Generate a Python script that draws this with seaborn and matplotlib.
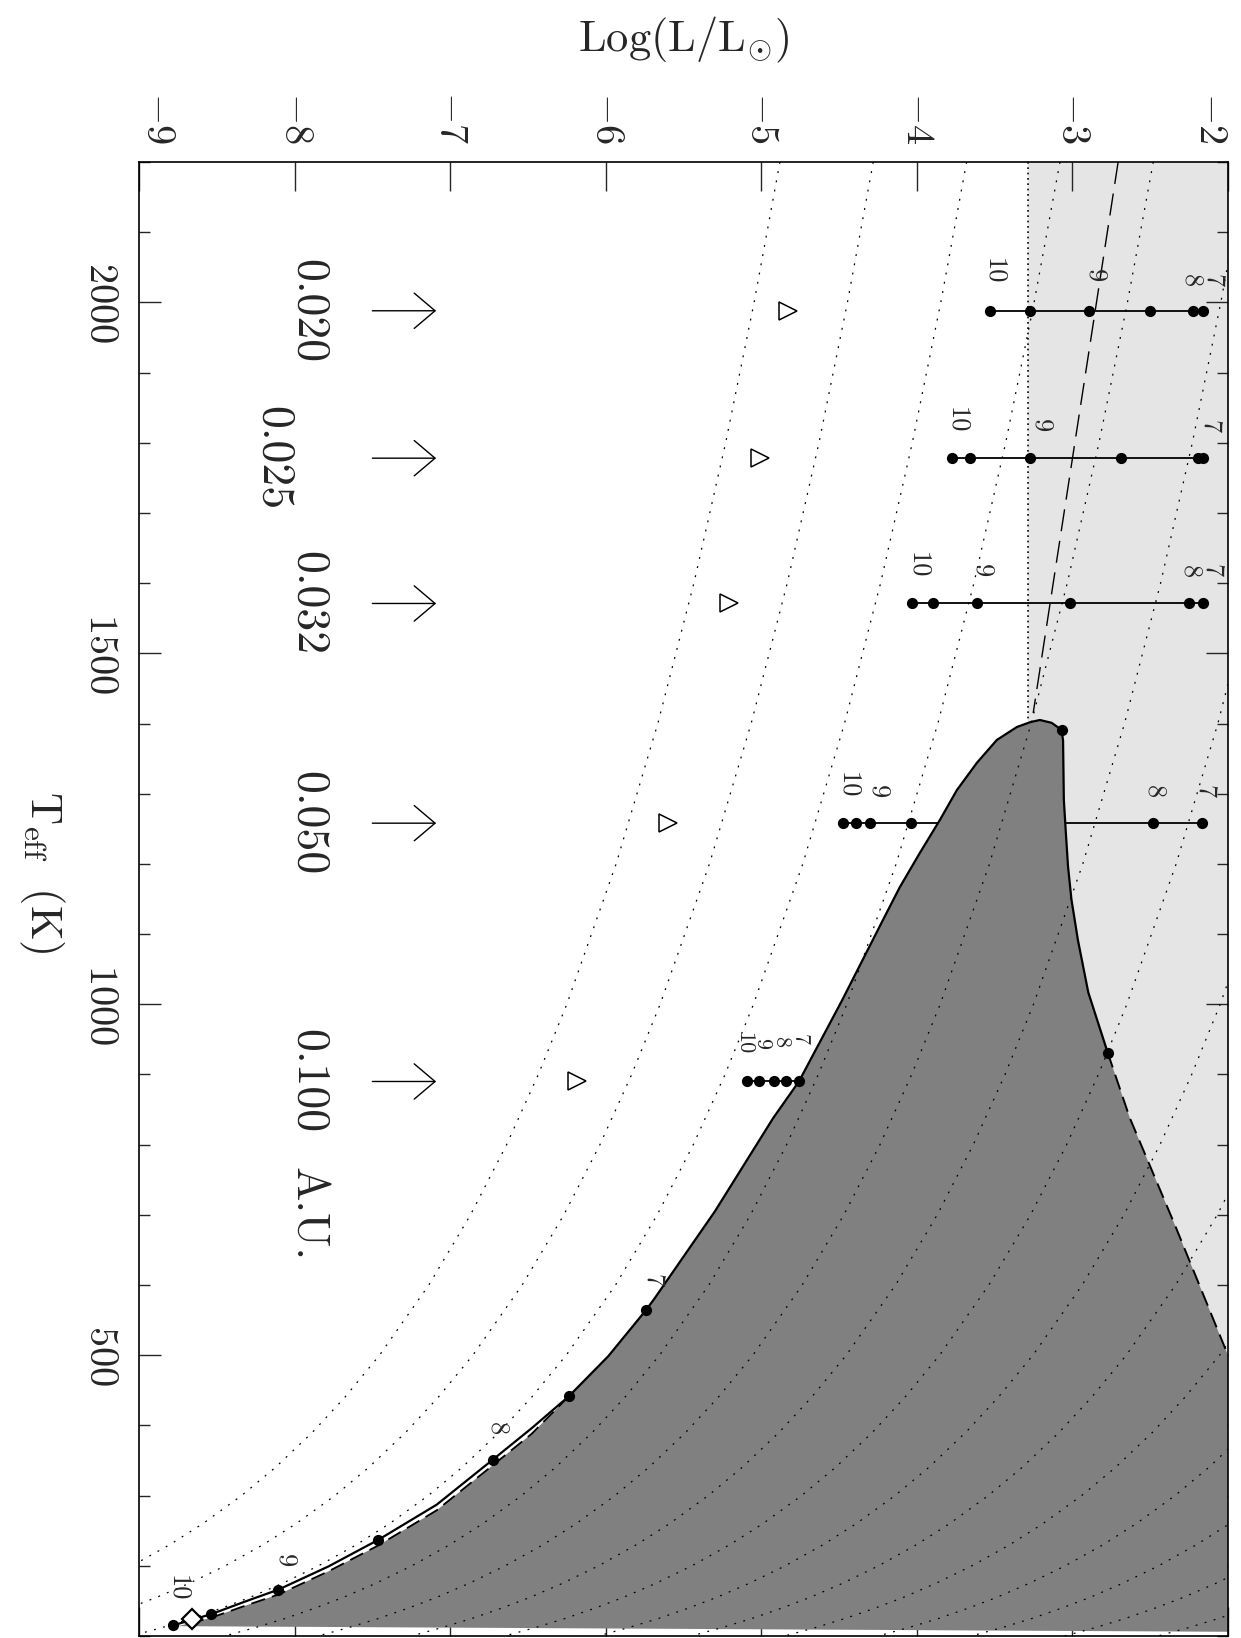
import numpy as np
import matplotlib
matplotlib.use("Agg")
import matplotlib.pyplot as plt
from matplotlib.ticker import MultipleLocator
import seaborn as sns

# dotted iso-radius guides: log L where each one meets the top of the plot,
# and the common shape of a guide (log L offset at the listed Teff)
iso_top_logL = [-4.88, -4.28, -3.68, -3.08, -2.48, -1.88, -1.28, -0.68,
                -0.08, 0.52, 1.12, 1.72, 2.32, 2.92]
iso_teff = [2200, 2000, 1800, 1600, 1400, 1200, 1000, 900, 800, 700, 600, 500,
            440, 390, 340, 300, 260, 230, 200, 175, 155, 140, 125, 112, 100]
iso_offset = [0.0, -0.166, -0.349, -0.553, -0.785, -1.053, -1.370, -1.553,
              -1.757, -1.989, -2.257, -2.574, -2.797, -3.006, -3.244, -3.461,
              -3.710, -3.923, -4.166, -4.398, -4.607, -4.785, -4.980, -5.172,
              -5.370]

# shaded (dark) region outline
dark_logL = [-3.209, -3.134, -3.070, -3.060, -3.055, -3.042, -3.028, -3.006, -2.985,
             -2.965, -2.898, -2.773, -2.631, -2.342, -2.0, -2.0, -8.75, -8.66, -8.537,
             -8.319, -8.105, -7.783, -7.462, -7.087, -6.727, -6.476, -6.237, -5.984,
             -5.742, -5.684, -5.298, -4.923, -4.758, -4.482, -4.218, -4.109, -3.981,
             -3.852, -3.743, -3.614, -3.486, -3.357, -3.27]
dark_teff = [1405, 1401, 1391, 1376, 1291, 1244, 1196, 1149, 1120,
             1092, 1017, 931, 838, 686, 500, 106, 114, 119, 126,
             143, 159, 192, 229, 279, 343, 388, 441.5, 498.5,
             564, 581.5, 705, 838, 890, 1005, 1120, 1167, 1215.5,
             1262.5, 1305, 1344, 1376.5, 1395, 1402]

# solid outline / isolated track
edge_logL = [-2.773, -2.898, -2.965, -2.985, -3.006, -3.028, -3.042, -3.055, -3.060,
             -3.070, -3.134, -3.209, -3.27, -3.357, -3.486, -3.614, -3.743, -3.852,
             -3.981, -4.109, -4.218, -4.482, -4.758, -4.923, -5.298, -5.684, -5.742,
             -5.984, -6.237, -6.476, -6.727, -7.087, -7.462, -7.783, -8.105, -8.319,
             -8.537, -8.783]
edge_teff = [931, 1017, 1092, 1120, 1149, 1196, 1244, 1291, 1376,
             1391, 1401, 1405, 1402, 1395, 1376.5, 1344, 1305, 1262.5,
             1215.5, 1167, 1120, 1005, 890, 838, 705, 581.5, 564,
             498.5, 441.5, 396, 351, 287, 237, 199, 166, 149,
             131, 115]
track_dot_logL = [-3.070, -2.773, -5.742, -6.237, -6.727, -7.462, -8.105, -8.537, -8.783]
track_dot_teff = [1391, 931, 564, 441.5, 351, 237, 166, 131, 115]
track_labels = ["7", "8", "9", "10"]
track_label_logL = [-5.70, -6.70, -8.06, -8.75]
track_label_teff = [607, 396, 208, 168]

# dashed edges of the shaded region
right_dash_logL = [-2.773, -2.631, -2.342, -2.0]
right_dash_teff = [931, 838, 686, 500]
left_dash_logL = [-6.237, -6.476, -6.727, -7.087, -7.462, -7.783, -8.105, -8.319, -8.537, -8.66]
left_dash_teff = [441.5, 388, 343, 279, 229, 192, 159, 143, 126, 119]
long_dash_logL = [-2.706, -3.252]
long_dash_teff = [2200, 1415]
boundary_logL = -3.285
boundary_teff = [2200, 1405]

# irradiated sequences at each orbital distance
distances = ["0.020", "0.025", "0.032", "0.050", "0.100"]
row_teff = [1988, 1778, 1571, 1258, 890]
row_logL = [
    [-3.531, -3.270, -2.893, -2.499, -2.225, -2.161],
    [-3.777, -3.659, -3.270, -2.690, -2.192, -2.160],
    [-4.030, -3.893, -3.615, -3.017, -2.250, -2.160],
    [-4.474, -4.392, -4.298, -4.039, -2.479, -2.166],
    [-5.093, -5.015, -4.919, -4.842, -4.758],
]
row_labels = [
    [("10", -3.505, 2044), ("9", -2.850, 2038), ("8", -2.235, 2031), ("7", -2.100, 2031)],
    [("10", -3.743, 1832), ("9", -3.203, 1824), ("7", -2.115, 1823)],
    [("10", -3.994, 1625), ("9", -3.582, 1618), ("8", -2.240, 1616), ("7", -2.105, 1618)],
    [("10", -4.443, 1312), ("9", -4.250, 1303), ("8", -2.477, 1303), ("7", -2.149, 1303)],
    [("10", -5.115, 944), ("9", -4.995, 944), ("8", -4.875, 947), ("7", -4.755, 950)],
]
tri_logL = [-4.825, -5.006, -5.208, -5.597, -6.187]
dist_text_logL = [-7.914, -8.139, -7.914, -7.914, -7.914]
arrow_logL = [-7.50, -7.09]

sns.set_style("ticks")
plt.rcParams["font.family"] = ["cmr10", "DejaVu Serif"]
plt.rcParams["mathtext.fontset"] = "cm"
plt.rcParams["axes.formatter.use_mathtext"] = True
plt.rcParams["axes.unicode_minus"] = False

fig = plt.figure(figsize=(12.41, 16.38), dpi=100)
ax = fig.add_axes([0.1120, 0.00122, 0.8775, 0.8999])

ax.fill_between([boundary_logL, -2.0], 500, 2200, color="#e5e5e5", lw=0, zorder=0.5)
ax.fill(dark_logL, dark_teff, color="#808080", lw=0, zorder=1)

for T, Ls in zip(row_teff, row_logL):
    sns.lineplot(x=Ls, y=[T] * len(Ls), color="k", lw=1.3, sort=False,
                 estimator=None, ax=ax, zorder=0.8)

for L0 in iso_top_logL:
    sns.lineplot(x=np.array(iso_offset) + L0, y=iso_teff, color="k", lw=0.9,
                 linestyle=(0, (1.5, 6)), sort=False, estimator=None, ax=ax, zorder=1.5)

sns.lineplot(x=[boundary_logL, boundary_logL], y=boundary_teff, color="k", lw=1.2,
             linestyle=(0, (1, 2.2)), sort=False, estimator=None, ax=ax, zorder=1.5)
sns.lineplot(x=long_dash_logL, y=long_dash_teff, color="k", lw=1.0,
             linestyle=(0, (16, 7)), sort=False, estimator=None, ax=ax, zorder=1.5)

sns.lineplot(x=edge_logL, y=edge_teff, color="k", lw=1.6, sort=False,
             estimator=None, ax=ax, zorder=2)
sns.lineplot(x=right_dash_logL, y=right_dash_teff, color="k", lw=1.4,
             linestyle=(0, (8, 4)), sort=False, estimator=None, ax=ax, zorder=2)
sns.lineplot(x=left_dash_logL, y=left_dash_teff, color="k", lw=1.3,
             linestyle=(0, (8, 4)), sort=False, estimator=None, ax=ax, zorder=2)

for T, Ls in zip(row_teff, row_logL):
    sns.scatterplot(x=Ls, y=[T] * len(Ls), color="k", s=65, linewidth=0,
                    ax=ax, zorder=3, legend=False)
sns.scatterplot(x=track_dot_logL, y=track_dot_teff, color="k", s=65, linewidth=0,
                ax=ax, zorder=3, legend=False)
ax.plot([-8.661], [124], marker="D", ms=10, mfc="white", mec="k", mew=1.6,
        ls="none", zorder=4)
ax.plot(tri_logL, row_teff, marker=">", ms=13, mfc="none", mec="k", mew=1.1,
        ls="none", zorder=3)

for i, labels in enumerate(row_labels):
    fs = 16 if i == 4 else 19
    for txt, L, T in labels:
        ax.text(L, T, txt, rotation=-90, fontsize=fs, ha="center", va="center", zorder=4)
for txt, L, T in zip(track_labels, track_label_logL, track_label_teff):
    ax.text(L, T, txt, rotation=-90, fontsize=19, ha="center", va="center", zorder=4)

for d, T, L in zip(distances, row_teff, dist_text_logL):
    ax.text(L, T, d, rotation=-90, fontsize=33, ha="center", va="center")
    ax.annotate("", xy=(arrow_logL[1], T), xytext=(arrow_logL[0], T),
                arrowprops=dict(arrowstyle="->,head_length=1.5,head_width=1.27",
                                lw=1.0, color="k", shrinkA=0, shrinkB=0,
                                mutation_scale=10))
ax.text(-7.914, 701, "A.U.", rotation=-90, fontsize=33, ha="center", va="center")

ax.set_xlim(-9, -2)
ax.set_ylim(100, 2200)

xt = list(range(-9, -1))
ax.set_xticks(xt)
ax.set_xticklabels([r"$-%d$" % (-v) for v in xt])
ax.set_yticks([500, 1000, 1500, 2000])
ax.set_yticklabels([r"$%d$" % v for v in [500, 1000, 1500, 2000]])
ax.yaxis.set_minor_locator(MultipleLocator(100))

ax.tick_params(axis="x", which="major", direction="in", length=21, width=1,
               top=True, bottom=True, labeltop=True, labelbottom=False,
               pad=13, labelrotation=-90, labelsize=29)
ax.tick_params(axis="y", which="major", direction="in", length=16, width=1,
               left=True, right=True, labelleft=True, pad=15,
               labelrotation=-90, labelsize=29)
ax.tick_params(axis="y", which="minor", direction="in", length=8, width=1,
               left=True, right=True)
for lab in ax.get_yticklabels():
    lab.set_va("center")
xl = ax.get_xticklabels()
xl[0].set_ha("left")
xl[-1].set_ha("right")

for s in ax.spines.values():
    s.set_color("k")
    s.set_linewidth(1.2)

ax.set_xlabel(r"$\mathrm{Log(L/L_{\odot})}$", fontsize=32)
ax.xaxis.set_label_position("top")
ax.xaxis.label.set_va("center")
ax.xaxis.set_label_coords(0.5, 1.083)
ax.set_ylabel(r"$\mathrm{T_{eff}}\ \ (\mathrm{K})$", fontsize=32, rotation=-90,
              va="center", ha="center")
ax.yaxis.set_label_coords(-0.089, 0.518)

fig.savefig("out.png", dpi=100)
